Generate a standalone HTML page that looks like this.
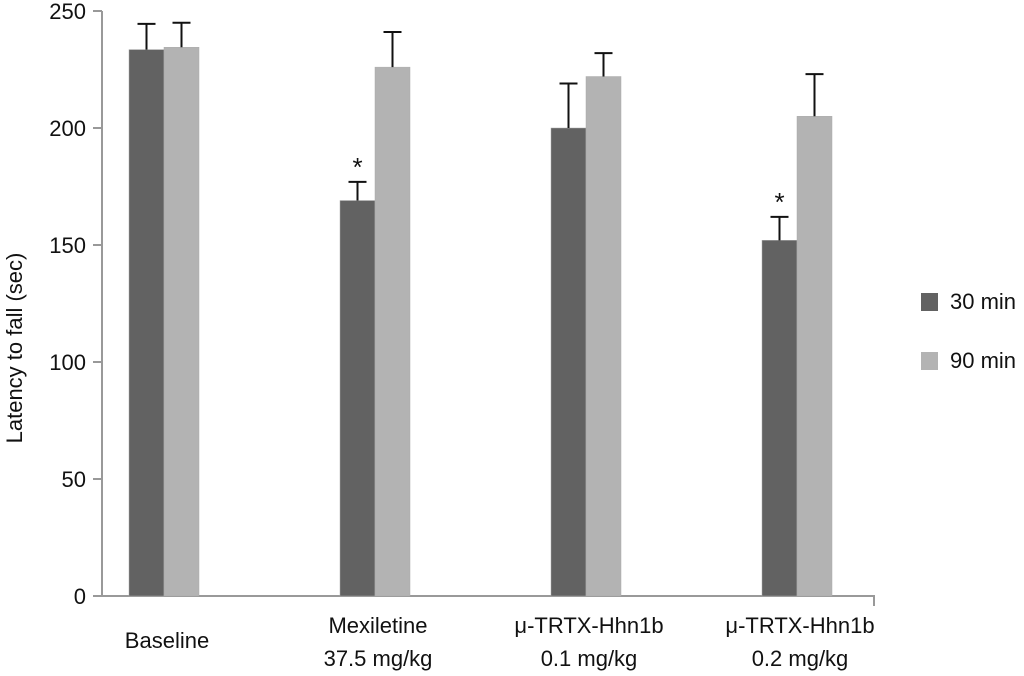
<!DOCTYPE html>
<html><head><meta charset="utf-8"><style>
body{margin:0;background:#fff}
svg{display:block;font-family:"Liberation Sans",sans-serif}
</style></head><body>
<svg id="c" width="1024" height="676"></svg>
<script>
const categories=[["Baseline"],["Mexiletine","37.5 mg/kg"],["μ-TRTX-Hhn1b","0.1 mg/kg"],["μ-TRTX-Hhn1b","0.2 mg/kg"]];
const series30=[233.5,169,200,152];
const err30=[11,8,19,10];
const series90=[234.5,226,222,205];
const err90=[10.5,15,10,18];
const sig30=[false,true,false,true];
const yTicks=[0,50,100,150,200,250];
const seriesNames=["30 min","90 min"];
const NS="http://www.w3.org/2000/svg";
const svg=document.getElementById('c');
function mk(t,a,p){const e=document.createElementNS(NS,t);for(const k in a)e.setAttribute(k,a[k]);(p||svg).appendChild(e);return e;}
const y=v=>596-v*2.34;
const gx=i=>129+i*211;
const bw=35;
let ax=mk('line',{x1:102,y1:y(0),x2:102,y2:y(250),stroke:'#999','stroke-width':2});

yTicks.forEach(t=>{
 let l=mk('line',{x1:93,x2:102,y1:y(t),y2:y(t),stroke:'#999','stroke-width':2});
 
 let tx=mk('text',{x:86,y:y(t)+8,'text-anchor':'end','font-size':22,fill:'#111'});tx.textContent=t;
 
});
let xa=mk('polyline',{points:`102,${y(0)} 874,${y(0)} 874,${y(0)+10}`,fill:'none',stroke:'#999','stroke-width':2});

let yt=mk('text',{transform:'translate(22,348) rotate(-90)','text-anchor':'middle','font-size':22,fill:'#111'});yt.textContent='Latency to fall (sec)';

function bar(x,v,e,col,name){
 let r=mk('rect',{x:x,y:y(v),width:bw,height:y(0)-y(v),fill:col,stroke:'#aaa','stroke-width':0.5});
 
 const cx=x+bw/2;
 let g=mk('path',{d:`M${cx},${y(v)} V${y(v+e)} M${cx-9},${y(v+e)} H${cx+9}`,stroke:'#111','stroke-width':2,fill:'none'});
 
}
categories.forEach((c,i)=>{
 const x=gx(i);
 bar(x,series30[i],err30[i],'#626262','bar-30min');
 bar(x+bw,series90[i],err90[i],'#b3b3b3','bar-90min');
 if(sig30[i]){let s=mk('text',{x:x+bw/2,y:y(series30[i]+err30[i])-6,'text-anchor':'middle','font-size':26,fill:'#111'});s.textContent='*';
  }
 c.forEach((ln,j)=>{
  const yy=c.length==1?648:633+j*33;
  let t=mk('text',{x:x+bw+3,y:yy,'text-anchor':'middle','font-size':22,fill:'#111'});t.textContent=ln;
  
 });
});
const lc=['#626262','#b3b3b3'];
seriesNames.forEach((n,i)=>{
 let r=mk('rect',{x:921,y:293+i*59,width:17,height:18,fill:lc[i]});
 
 let t=mk('text',{x:950,y:309+i*59,'font-size':22,fill:'#111'});t.textContent=n;
 
});
</script>
</body></html>
